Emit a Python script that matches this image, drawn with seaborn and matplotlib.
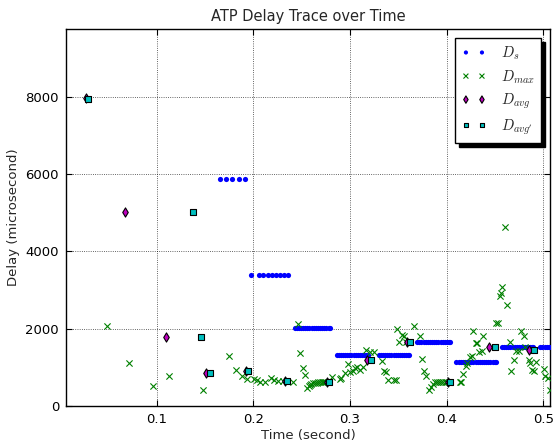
import matplotlib
matplotlib.use("Agg")
import matplotlib.pyplot as plt
import seaborn as sns
import pandas as pd

# Sender-side delay estimate D_s: each run of packets shares one level (microseconds)
ds_levels = [5870, 3380, 2010, 1310, 1310, 1663, 1138, 1534, 1534]
ds_times = [
    [0.1657, 0.1721, 0.1783, 0.1850, 0.1915],
    [0.1974, 0.2060, 0.2101, 0.2147, 0.2188, 0.2229, 0.2274, 0.2315, 0.2356],
    [0.2425, 0.2447, 0.2469, 0.2491, 0.2513, 0.2535, 0.2557, 0.2579, 0.2601,
     0.2623, 0.2645, 0.2667, 0.2689, 0.2711, 0.2733, 0.2755, 0.2777, 0.2788],
    [0.2860, 0.2882, 0.2904, 0.2926, 0.2948, 0.2970, 0.2992, 0.3014, 0.3036,
     0.3058, 0.3080, 0.3102, 0.3124, 0.3146, 0.3168, 0.3190],
    [0.3296, 0.3318, 0.3340, 0.3362, 0.3384, 0.3406, 0.3428, 0.3450, 0.3472,
     0.3494, 0.3516, 0.3538, 0.3560, 0.3582, 0.3604, 0.3615],
    [0.3695, 0.3717, 0.3739, 0.3761, 0.3783, 0.3805, 0.3827, 0.3849, 0.3871,
     0.3893, 0.3915, 0.3937, 0.3959, 0.3981, 0.4003, 0.4025, 0.4030],
    [0.4101, 0.4123, 0.4145, 0.4167, 0.4189, 0.4211, 0.4233, 0.4255, 0.4277,
     0.4299, 0.4321, 0.4343, 0.4365, 0.4387, 0.4409, 0.4431, 0.4453, 0.4475,
     0.4497, 0.4508],
    [0.4573, 0.4595, 0.4617, 0.4639, 0.4661, 0.4683, 0.4705, 0.4727, 0.4749,
     0.4771, 0.4793, 0.4815, 0.4837, 0.4859, 0.4881, 0.4898],
    [0.4970, 0.4992, 0.5014, 0.5036, 0.5058, 0.5080],
]

# Per-packet maximum delay D_max
dmax_time = [
    0.0485, 0.0716, 0.0958, 0.1126, 0.1481, 0.1750, 0.1816, 0.1878, 0.1938,
    0.2003, 0.2041, 0.2067, 0.2116, 0.2179, 0.2217, 0.2256, 0.2302, 0.2412,
    0.2457, 0.2481, 0.2509, 0.2533, 0.2558, 0.2571, 0.2584, 0.2600, 0.2618,
    0.2635, 0.2654, 0.2670, 0.2688, 0.2705, 0.2722, 0.2740, 0.2809, 0.2895,
    0.2910, 0.2946, 0.2974, 0.2998, 0.3026, 0.3050, 0.3073, 0.3101, 0.3135,
    0.3163, 0.3205, 0.3249, 0.3329, 0.3355, 0.3375, 0.3394, 0.3453, 0.3477,
    0.3481, 0.3507, 0.3536, 0.3561, 0.3579, 0.3660, 0.3722, 0.3745, 0.3765,
    0.3784, 0.3813, 0.3833, 0.3856, 0.3877, 0.3898, 0.3918, 0.3939, 0.3963,
    0.3998, 0.4135, 0.4151, 0.4174, 0.4200, 0.4213, 0.4239, 0.4261, 0.4272,
    0.4307, 0.4318, 0.4337, 0.4368, 0.4376, 0.4506, 0.4531, 0.4549, 0.4559,
    0.4578, 0.4603, 0.4622, 0.4653, 0.4670, 0.4694, 0.4722, 0.4749, 0.4771,
    0.4797, 0.4808, 0.4852, 0.4867, 0.4880, 0.4901, 0.4921, 0.5004, 0.5022,
    0.5049, 0.5066,
]
dmax_value = [
    2083, 1112, 505, 784, 414, 1281, 944, 776, 693,
    711, 660, 629, 608, 732, 665, 634, 647, 629,
    2126, 1379, 983, 802, 466, 505, 543, 570, 587,
    596, 603, 612, 621, 621, 621, 625, 758, 686,
    737, 861, 1079, 887, 905, 975, 1017, 931, 1017,
    1449, 1405, 1405, 1177, 905, 887, 673, 673, 660,
    2005, 1663, 1837, 1811, 1663, 2077, 1816, 1216, 913,
    776, 401, 492, 564, 608, 621, 621, 621, 621,
    621, 621, 621, 828, 1043, 1105, 1268, 1294, 1945,
    1622, 1622, 1410, 1436, 1811, 2155, 2155, 2846, 2916,
    3079, 4623, 2613, 1648, 913, 1190, 1431, 1431, 1953,
    1811, 1534, 1190, 1105, 931, 905, 1146, 970, 784,
    717, 401,
]

# Window averages D_avg and the adjusted average D_avg'
davg_time = [0.0268, 0.0671, 0.1092, 0.1506, 0.1922, 0.2325, 0.2763, 0.3174,
             0.3590, 0.4011, 0.4435, 0.4852]
davg_value = [7970, 5020, 1785, 846, 898, 647, 613, 1182, 1664, 613, 1535, 1449]
davgp_time = [0.0290, 0.1376, 0.1460, 0.1547, 0.1946, 0.2350, 0.2784, 0.3218,
              0.3618, 0.4032, 0.4500, 0.4904]
davgp_value = [7950, 5020, 1785, 846, 898, 647, 613, 1182, 1664, 613, 1535, 1449]

x_ticks = [0.1, 0.2, 0.3, 0.4, 0.5]
y_ticks = [0, 2000, 4000, 6000, 8000]

ds = pd.DataFrame({
    "t": [t for seg in ds_times for t in seg],
    "d": [lvl for seg, lvl in zip(ds_times, ds_levels) for _ in seg],
})
dmax = pd.DataFrame({"t": dmax_time, "d": dmax_value})
davg = pd.DataFrame({"t": davg_time, "d": davg_value})
davgp = pd.DataFrame({"t": davgp_time, "d": davgp_value})

sns.set_style("white")
plt.rcParams["font.family"] = ["DejaVu Sans"]
plt.rcParams["mathtext.fontset"] = "cm"

fig = plt.figure(figsize=(5.55, 4.41), dpi=100)
ax = fig.add_axes([0.119, 0.0794, 0.872, 0.8542])

sns.scatterplot(data=ds, x="t", y="d", ax=ax, color=(0, 0, 1), marker="o",
                s=14, linewidth=0, label="$D_s$", zorder=3)
sns.scatterplot(data=dmax, x="t", y="d", ax=ax, color=(0, 0.5, 0), marker="x",
                s=20, linewidth=0.8, label="$D_{max}$", zorder=4)
sns.scatterplot(data=davg, x="t", y="d", ax=ax, color=(0.75, 0, 0.75),
                marker="d", s=22, edgecolor="black", linewidth=0.8,
                label="$D_{avg}$", zorder=5)
sns.scatterplot(data=davgp, x="t", y="d", ax=ax, color=(0, 0.75, 0.75),
                marker="s", s=14, edgecolor="black", linewidth=0.8,
                label="$D_{avg'}$", zorder=6)

ax.set_xlim(0.006, 0.507)
ax.set_ylim(0, 9750)
ax.set_xticks(x_ticks)
ax.set_xticklabels([f"{v:g}" for v in x_ticks])
ax.set_yticks(y_ticks)
ax.set_yticklabels([str(v) for v in y_ticks])
ax.tick_params(direction="in", length=4, width=0.8, labelsize=9.5,
               top=True, right=True, bottom=True, left=True, pad=5,
               colors="black")
ax.grid(True, color="black", linestyle=":", linewidth=0.6, alpha=0.8)
for sp in ax.spines.values():
    sp.set_color("black")
    sp.set_linewidth(1.0)

ax.set_title("ATP Delay Trace over Time", fontsize=10.5, pad=6)
ax.set_xlabel("Time (second)", fontsize=9.5, labelpad=2)
ax.set_ylabel("Delay (microsecond)", fontsize=9.5, labelpad=4)

leg = ax.legend(loc="upper right", scatterpoints=2, scatteryoffsets=[0.5],
                markerscale=0.8, fontsize=10.5, frameon=True, fancybox=False,
                shadow={"color": "black", "alpha": 1.0, "ox": 3, "oy": -3},
                borderaxespad=0.6, handletextpad=1.0, labelspacing=0.42,
                borderpad=0.45, handlelength=1.7)
leg.get_frame().set_edgecolor("black")
leg.get_frame().set_linewidth(1.0)
leg.get_frame().set_alpha(1.0)

fig.savefig("out.png", dpi=100)
